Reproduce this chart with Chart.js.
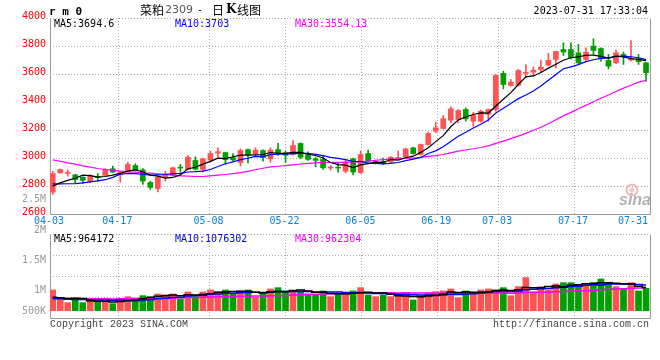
<!DOCTYPE html>
<html><head><meta charset="utf-8">
<script src="https://cdn.jsdelivr.net/npm/chart.js@4.4.0/dist/chart.umd.min.js"></script>
<style>
html,body{margin:0;padding:0;background:#fff;}
#wrap{position:relative;width:660px;height:360px;background:#fff;}
#k{position:absolute;left:0;top:0;}
#v{position:absolute;left:0;top:225px;}
</style></head><body>
<div id="wrap">
<canvas id="k" width="660" height="225"></canvas>
<canvas id="v" width="660" height="135"></canvas>
</div>
<script>
// ---------- data ----------
const dates = ['04-03','04-04','04-06','04-07','04-10','04-11','04-12','04-13','04-14','04-17','04-18','04-19','04-20','04-21','04-24','04-25','04-26','04-27','04-28',
'05-04','05-05','05-08','05-09','05-10','05-11','05-12','05-15','05-16','05-17','05-18','05-19','05-22','05-23','05-24','05-25','05-26','05-29','05-30','05-31',
'06-01','06-02','06-05','06-06','06-07','06-08','06-09','06-12','06-13','06-14','06-15','06-16','06-19','06-20','06-21','06-26','06-27','06-28','06-29','06-30',
'07-03','07-04','07-05','07-06','07-07','07-10','07-11','07-12','07-13','07-14','07-17','07-18','07-19','07-20','07-21','07-24','07-25','07-26','07-27','07-28','07-31'];
const open  = [2756,2894,2890,2880,2863,2832,2864,2875,2923,2880,2906,2946,2915,2825,2782,2860,2876,2933,2918,2982,
               2918,2985,3035,3039,3003,2968,3060,3030,3053,2994,3060,3037,3025,3104,3025,2995,2990,2928,2932,2906,
               2994,2895,3032,2966,2976,2970,2995,3008,3072,3025,3096,3192,3211,3270,3275,3346,3263,3263,3311,3346,
               3604,3518,3520,3605,3613,3632,3663,3704,3775,3775,3751,3704,3799,3782,3697,3680,3740,3700,3708,3680];
const high  = [2906,2922,2915,2884,2866,2882,2889,2925,2942,2905,2970,2958,2925,2834,2870,2905,2935,2954,3018,3008,
               3000,3049,3073,3042,3032,3065,3063,3073,3058,3073,3104,3049,3125,3108,3044,3006,3018,2946,2965,2989,
               3000,3049,3056,2985,3000,3010,3049,3070,3077,3100,3185,3256,3304,3366,3346,3358,3327,3342,3351,3596,
               3620,3560,3632,3668,3651,3699,3747,3763,3823,3823,3811,3787,3851,3787,3740,3770,3756,3839,3740,3682];
const low   = [2739,2890,2870,2823,2818,2823,2835,2870,2897,2827,2903,2908,2812,2775,2757,2835,2872,2899,2915,2915,
               2899,2970,3003,2954,2978,2942,2965,3013,2978,2970,3018,2970,3020,2994,2982,2937,2918,2913,2899,2894,
               2880,2890,2970,2955,2955,2962,2990,3003,3028,3020,3092,3180,3206,3251,3251,3263,3227,3256,3263,3334,
               3494,3513,3513,3573,3585,3613,3658,3644,3732,3708,3673,3692,3740,3692,3637,3673,3668,3692,3668,3549];
const close = [2889,2918,2893,2846,2840,2875,2860,2918,2899,2899,2954,2911,2835,2790,2862,2887,2930,2928,3006,2920,
               2994,3032,3045,2988,2987,3053,3025,3056,3003,3056,3032,3020,3089,3006,2990,2983,2930,2932,2928,2970,
               2900,3025,2978,2977,2960,3005,3003,3065,3032,3096,3175,3215,3280,3351,3339,3280,3304,3334,3346,3589,
               3525,3542,3625,3612,3627,3649,3697,3761,3757,3716,3680,3756,3768,3710,3656,3751,3725,3707,3688,3610];
const ma5   = [2799,2822,2840,2855,2877,2874,2863,2868,2878,2890,2906,2916,2900,2878,2870,2857,2861,2879,2923,2934,
               2956,2976,2999,2996,3009,3021,3020,3022,3025,3039,3034,3033,3040,3041,3027,3018,3000,2968,2953,2949,
               2932,2951,2960,2970,2968,2989,2985,3002,3013,3040,3074,3117,3160,3223,3272,3293,3311,3322,3321,3371,
               3420,3467,3525,3579,3586,3611,3642,3669,3698,3716,3722,3734,3735,3726,3714,3728,3722,3710,3705,3695];
const ma10  = [2815,2815,2816,2817,2822,2830,2836,2845,2862,2884,2890,2889,2884,2878,2880,2882,2889,2890,2900,2902,
               2906,2918,2939,2959,2972,2988,2998,3011,3010,3024,3028,3027,3031,3033,3033,3026,3017,3004,2997,2988,
               2975,2975,2964,2961,2958,2961,2968,2981,2992,3004,3032,3051,3081,3118,3156,3184,3214,3241,3272,3321,
               3356,3389,3424,3450,3478,3515,3555,3597,3638,3651,3667,3688,3702,3712,3715,3725,3728,3723,3716,3703];
const ma30  = [2987,2977,2965,2956,2944,2935,2925,2918,2913,2906,2901,2899,2894,2892,2887,2882,2877,2873,2870,2868,
               2868,2872,2877,2882,2888,2895,2905,2916,2927,2937,2941,2945,2951,2957,2962,2965,2968,2968,2969,2971,
               2970,2973,2978,2984,2988,2992,2994,2999,2999,3005,3011,3017,3025,3037,3049,3057,3066,3075,3087,3104,
               3121,3138,3156,3176,3198,3220,3245,3273,3301,3326,3352,3376,3402,3427,3450,3475,3499,3520,3542,3554];
// volumes in thousands
const volumeK = [865,518,334,477,334,405,405,376,293,447,585,531,627,585,698,669,698,489,782,627,
                 782,865,782,865,727,823,865,560,698,907,961,823,823,794,698,686,823,585,727,656,
                 823,961,656,585,656,585,627,627,447,627,740,794,823,907,543,823,727,865,907,865,
                 961,627,1003,1379,794,1003,865,1116,1170,1170,1074,1074,1170,1325,1170,1003,907,1170,823,936];
const volMa5K  = [560,540,510,520,506,414,391,399,363,385,421,446,497,555,605,622,655,628,667,653,
                  676,709,768,784,804,812,812,768,735,771,798,790,842,862,820,765,765,717,704,695,
                  723,750,765,736,736,689,622,616,588,583,614,647,686,778,761,778,765,773,773,837,
                  865,845,873,967,953,961,1009,1031,990,1065,1079,1121,1132,1163,1163,1148,1115,1115,1015,964];
const volMa10K = [500,495,480,470,462,455,450,446,440,445,417,419,448,459,495,522,551,562,611,629,
                  649,682,698,726,729,744,761,768,759,787,805,801,805,798,795,782,777,780,783,758,
                  744,758,741,720,716,706,686,690,662,659,651,634,651,683,672,696,706,730,776,799,
                  822,805,823,870,895,913,927,952,978,1009,1020,1065,1082,1076,1114,1114,1118,1123,1089,1076];
const volMa30K = [520,515,508,505,500,498,497,495,492,493,497,500,505,510,518,525,533,538,547,552,
                  560,570,578,588,594,600,607,608,612,621,624,634,650,661,673,682,696,703,718,725,
                  733,747,748,748,747,744,741,746,735,735,733,731,732,734,728,728,723,733,740,739,
                  739,732,738,758,761,772,773,791,805,823,831,835,852,876,894,908,917,935,948,962];
const priceTicks = [2600,2800,3000,3200,3400,3600,3800,4000];
const dateTicks  = ['04-03','04-17','05-08','05-22','06-05','06-19','07-03','07-17','07-31'];
const volTickLabels = ['2.5M','2M','1.5M','1M','500K'];
const priceLegend = ['MA5:3694.6','MA10:3703','MA30:3554.13'];
const volLegend   = ['MA5:964172','MA10:1076302','MA30:962304'];
const titleParts  = ['菜粕','2309','-','日','K','线图'];
const symbolText  = 'r m 0';
const stampText   = '2023-07-31 17:33:04';
const footLeft    = 'Copyright 2023 SINA.COM';
const footRight   = 'http://finance.sina.com.cn';

// ---------- styles ----------
const UP = '#ff5252', DN = '#009e00';
const MONO = '"DejaVu Sans Mono", monospace';
const candleCol = close.map((c, i) => c >= open[i] ? UP : DN);
const xCandle = () => ({type:'linear', display:false, min:-0.36, max:79.53, offset:false, grid:{offset:false}});
const xGrid   = () => ({type:'linear', display:false, min:0, max:dates.length - 1, offset:false, grid:{offset:false}});

function pt(arr, k){ return arr.map((v, i) => ({x:i, y:v * (k || 1)})); }
function txt(ctx, s, x, y, font, color, align){
  ctx.font = font; ctx.fillStyle = color; ctx.textAlign = align || 'left';
  ctx.textBaseline = 'middle'; ctx.fillText(s, x, y);
}
function seg(ctx, x1, y1, x2, y2){ ctx.beginPath(); ctx.moveTo(x1, y1); ctx.lineTo(x2, y2); ctx.stroke(); }
function px(v){ return Math.round(v) + 0.5; }

function drawFrame(chart, hVals){
  const {ctx, chartArea:a, scales} = chart;
  ctx.save();
  ctx.lineWidth = 1;
  ctx.strokeStyle = '#adadad';
  ctx.setLineDash([1, 2]);
  hVals.forEach(v => { const y = px(scales.y.getPixelForValue(v)); seg(ctx, a.left, y, a.right, y); });
  dateTicks.slice(1, -1).forEach(d => {
    const x = px(scales.xg.getPixelForValue(dates.indexOf(d)));
    seg(ctx, x, a.top, x, a.bottom);
  });
  ctx.setLineDash([]);
  ctx.strokeStyle = '#9a9a9a';
  const l = px(a.left), r = px(a.right), b = px(a.bottom), t = px(a.top);
  seg(ctx, l, t, l, b); seg(ctx, r, t, r, b); seg(ctx, l, b, r + 0.5, b);
  ctx.restore();
}

// ---------- price chart ----------
const kPlugin = {
  id: 'kdeco',
  beforeDatasetsDraw(chart){
    drawFrame(chart, priceTicks.slice(1));
    const ctx = chart.ctx;
    ctx.save();
    ctx.strokeStyle = 'rgba(222,100,100,0.45)';
    ctx.lineWidth = 2;
    ctx.beginPath(); ctx.arc(632, 190, 5.5, 0, Math.PI * 2); ctx.stroke();
    ctx.fillStyle = 'rgba(222,100,100,0.35)';
    ctx.beginPath(); ctx.arc(632, 190, 2.5, 0, Math.PI * 2); ctx.fill();
    txt(ctx, 'sina', 619, 201, 'italic bold 16px "Liberation Sans", sans-serif', 'rgba(165,165,165,0.85)');
    ctx.restore();
  },
  afterDraw(chart){
    const {ctx, scales} = chart;
    ctx.save();
    txt(ctx, symbolText, 49, 12, 'bold 11px ' + MONO, '#000');
    const tx = [140, 165, 197, 212, 226, 237];
    const tf = ['12px "Noto Sans CJK SC"', '11px "DejaVu Sans"', '10px ' + MONO, '12px "Noto Sans CJK SC"', 'bold 12px "DejaVu Serif"', '12px "Noto Sans CJK SC"'];
    const tc = ['#000', '#555', '#000', '#000', '#000', '#000'];
    titleParts.forEach((s, i) => txt(ctx, s, tx[i], 10, tf[i], tc[i]));
    txt(ctx, stampText, 648, 11, '10px ' + MONO, '#000', 'right');
    const lc = ['#000', '#0000ff', '#ff00ff'], lx = [54, 175, 295];
    priceLegend.forEach((s, i) => txt(ctx, s, lx[i], 24, '10px ' + MONO, lc[i]));
    priceTicks.forEach(v => txt(ctx, String(v), 46, scales.y.getPixelForValue(v) - 2, '10px ' + MONO, '#f00', 'right'));
    ctx.font = '10px ' + MONO;
    dateTicks.forEach(d => {
      const w = ctx.measureText(d).width;
      let x = scales.xg.getPixelForValue(dates.indexOf(d)) - 1;
      x = Math.min(x, 648 - w / 2);
      txt(ctx, d, x, 221, '10px ' + MONO, '#0a80e0', 'center');
    });
    txt(ctx, volTickLabels[0], 46, 199.7, '10px ' + MONO, '#999', 'right');
    ctx.restore();
  }
};

new Chart(document.getElementById('k'), {
  type: 'bar',
  data: {datasets: [
    {type:'line', data:pt(ma5),  borderColor:'#000',    borderWidth:1.2, pointRadius:0, order:0},
    {type:'line', data:pt(ma10), borderColor:'#0000ff', borderWidth:1.2, pointRadius:0, order:0},
    {type:'line', data:pt(ma30), borderColor:'#ff00ff', borderWidth:1.2, pointRadius:0, order:0},
    {data: open.map((o, i) => ({x:i, y:[o, close[i]]})), backgroundColor:candleCol, barThickness:5, minBarLength:1, grouped:false, borderWidth:0, order:1},
    {data: low.map((l, i) => ({x:i, y:[l, high[i]]})), backgroundColor:candleCol, barThickness:1, grouped:false, borderWidth:0, order:2}
  ]},
  options: {
    responsive:false, animation:false, events:[],
    layout:{padding:{left:50, right:10, top:18, bottom:11}},
    plugins:{legend:{display:false}, tooltip:{enabled:false}},
    scales:{x:xCandle(), xg:xGrid(), y:{type:'linear', display:false, min:2600, max:4000}}
  },
  plugins:[kPlugin]
});

// ---------- volume chart ----------
const VMIN = -304000, VMAX = 3196000;
const vPlugin = {
  id: 'vdeco',
  beforeDatasetsDraw(chart){
    const q = (VMAX - VMIN) / 4;
    drawFrame(chart, [1, 2, 3, 4].map(k => VMIN + k * q));
  },
  afterDraw(chart){
    const ctx = chart.ctx;
    ctx.save();
    const lc = ['#000', '#0000ff', '#ff00ff'], lx = [54, 175, 295];
    volLegend.forEach((s, i) => txt(ctx, s, lx[i], 14, '10px ' + MONO, lc[i]));
    const ly = [5.7, 35, 65.7, 86];
    volTickLabels.slice(1).forEach((s, i) => txt(ctx, s, 46, ly[i], '10px ' + MONO, '#999', 'right'));
    txt(ctx, footLeft, 50, 99, '10px "Liberation Mono", monospace', '#444');
    txt(ctx, footRight, 649, 99, '10px "Liberation Mono", monospace', '#444', 'right');
    ctx.restore();
  }
};

new Chart(document.getElementById('v'), {
  type: 'bar',
  data: {datasets: [
    {type:'line', data:pt(volMa5K, 1000),  borderColor:'#000',    borderWidth:1.5, pointRadius:0, stepped:'middle', order:0},
    {type:'line', data:pt(volMa10K, 1000), borderColor:'#0000ff', borderWidth:1.5, pointRadius:0, stepped:'middle', order:0},
    {type:'line', data:pt(volMa30K, 1000), borderColor:'#ff00ff', borderWidth:1.5, pointRadius:0, stepped:'middle', order:0},
    {data: pt(volumeK, 1000), backgroundColor:candleCol, barThickness:6, grouped:false, borderWidth:0, order:1}
  ]},
  options: {
    responsive:false, animation:false, events:[],
    layout:{padding:{left:50, right:10, top:9, bottom:42}},
    plugins:{legend:{display:false}, tooltip:{enabled:false}},
    scales:{x:xCandle(), xg:xGrid(), y:{type:'linear', display:false, min:VMIN, max:VMAX}}
  },
  plugins:[vPlugin]
});
</script>
</body></html>
